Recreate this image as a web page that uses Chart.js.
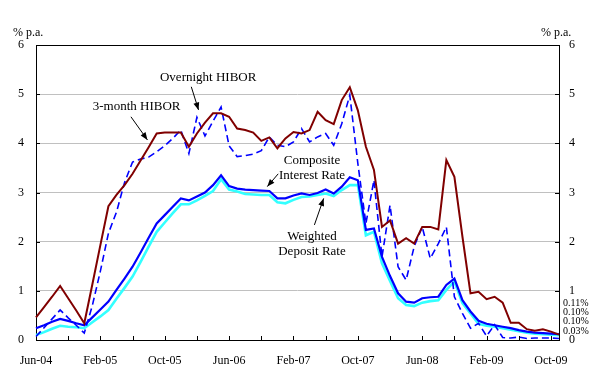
<!DOCTYPE html>
<html>
<head>
<meta charset="utf-8">
<script src="https://cdn.jsdelivr.net/npm/chart.js@4/dist/chart.umd.min.js"></script>
<style>
  html, body { margin: 0; padding: 0; background: #fff; }
  #wrap { width: 601px; height: 375px; }
</style>
</head>
<body>
<div id="wrap"><canvas id="rates" width="601" height="375"></canvas></div>
<script>
'use strict';

// ── Data (monthly, Jun-04 .. Nov-09, % p.a.) ─────────────────────────────────

const months = [
  'Jun-04', 'Jul-04', 'Aug-04', 'Sep-04', 'Oct-04', 'Nov-04', 'Dec-04',
  'Jan-05', 'Feb-05', 'Mar-05', 'Apr-05', 'May-05', 'Jun-05', 'Jul-05', 'Aug-05', 'Sep-05', 'Oct-05', 'Nov-05', 'Dec-05',
  'Jan-06', 'Feb-06', 'Mar-06', 'Apr-06', 'May-06', 'Jun-06', 'Jul-06', 'Aug-06', 'Sep-06', 'Oct-06', 'Nov-06', 'Dec-06',
  'Jan-07', 'Feb-07', 'Mar-07', 'Apr-07', 'May-07', 'Jun-07', 'Jul-07', 'Aug-07', 'Sep-07', 'Oct-07', 'Nov-07', 'Dec-07',
  'Jan-08', 'Feb-08', 'Mar-08', 'Apr-08', 'May-08', 'Jun-08', 'Jul-08', 'Aug-08', 'Sep-08', 'Oct-08', 'Nov-08', 'Dec-08',
  'Jan-09', 'Feb-09', 'Mar-09', 'Apr-09', 'May-09', 'Jun-09', 'Jul-09', 'Aug-09', 'Sep-09', 'Oct-09', 'Nov-09',
];

const hibor3m = [
  0.46, 0.67, 0.88, 1.10, 0.85, 0.60, 0.34,
  1.13, 1.93, 2.72, 2.95, 3.15, 3.38, 3.65, 3.92, 4.20, 4.22, 4.22, 4.22,
  3.93, 4.20, 4.42, 4.61, 4.61, 4.54, 4.30, 4.27, 4.22, 4.05, 4.12, 3.90,
  4.10, 4.23, 4.20, 4.27, 4.64, 4.47, 4.39, 4.88, 5.14, 4.67, 3.93, 3.46,
  2.30, 2.43, 1.96, 2.07, 1.96, 2.30, 2.30, 2.25, 3.66, 3.32, 2.10, 0.95,
  0.98, 0.83, 0.88, 0.76, 0.35, 0.35, 0.22, 0.19, 0.22, 0.17, 0.11,
];

const hiborOvernight = [
  0.07, 0.25, 0.43, 0.61, 0.45, 0.30, 0.14,
  0.70, 1.40, 2.17, 2.60, 3.20, 3.62, 3.68, 3.72, 3.83, 3.95, 4.10, 4.27,
  3.79, 4.53, 4.15, 4.45, 4.74, 3.95, 3.73, 3.75, 3.78, 3.85, 4.13, 3.96,
  3.93, 4.03, 4.30, 4.03, 4.13, 4.20, 3.96, 4.40, 4.98, 3.59, 2.37, 3.25,
  1.69, 2.74, 1.49, 1.22, 1.90, 2.30, 1.66, 1.96, 2.30, 0.88, 0.54, 0.24,
  0.34, 0.08, 0.31, 0.05, 0.04, 0.06, 0.03, 0.04, 0.04, 0.04, 0.03,
];

const compositeRate = [
  0.24, 0.30, 0.37, 0.43, 0.39, 0.34, 0.30,
  0.46, 0.62, 0.78, 1.02, 1.25, 1.49, 1.78, 2.08, 2.37, 2.54, 2.71, 2.88,
  2.84, 2.92, 3.00, 3.15, 3.35, 3.13, 3.08, 3.06, 3.05, 3.04, 3.03, 2.88,
  2.88, 2.94, 2.98, 2.95, 2.99, 3.06, 2.98, 3.12, 3.31, 3.25, 2.24, 2.27,
  1.69, 1.30, 0.95, 0.78, 0.76, 0.85, 0.87, 0.88, 1.12, 1.25, 0.81, 0.58,
  0.39, 0.33, 0.30, 0.27, 0.24, 0.20, 0.17, 0.15, 0.14, 0.13, 0.12,
];

const depositRate = [
  0.10, 0.16, 0.23, 0.29, 0.27, 0.26, 0.24,
  0.36, 0.48, 0.61, 0.84, 1.06, 1.29, 1.59, 1.90, 2.20, 2.39, 2.58, 2.76,
  2.76, 2.84, 2.93, 3.03, 3.27, 3.06, 3.02, 2.97, 2.96, 2.95, 2.95, 2.80,
  2.78, 2.85, 2.91, 2.92, 2.95, 2.98, 2.93, 3.05, 3.15, 3.15, 2.13, 2.20,
  1.56, 1.20, 0.85, 0.71, 0.69, 0.76, 0.79, 0.81, 1.02, 1.19, 0.75, 0.54,
  0.33, 0.29, 0.27, 0.24, 0.21, 0.18, 0.15, 0.13, 0.12, 0.11, 0.10,
];

const yTicks = [0, 1, 2, 3, 4, 5, 6];
const endLabels = ['0.11%', '0.10%', '0.10%', '0.03%'];

// ── Look ──────────────────────────────────────────────────────────────────────

const FONT = '"Liberation Serif", "Times New Roman", serif';
const LABEL_EVERY = 8;
const TICK_EVERY = 4;

// callout text + arrow, in (month index, % p.a.)
const notes = [
  { lines: ['Overnight HIBOR'], at: [21.4, 5.33], from: [19.3, 5.15], to: [20.2, 4.68] },
  { lines: ['3-month HIBOR'], at: [12.5, 4.74], from: [11.8, 4.54], to: [13.85, 4.07] },
  { lines: ['Composite', 'Interest Rate'], at: [34.3, 3.64], from: [30.1, 3.38], to: [28.75, 3.12] },
  { lines: ['Weighted', 'Deposit Rate'], at: [34.3, 2.10], from: [34.6, 2.34], to: [35.75, 2.88] },
];

function drawArrow(ctx, x1, y1, x2, y2) {
  const a = Math.atan2(y2 - y1, x2 - x1);
  ctx.beginPath();
  ctx.moveTo(x1, y1);
  ctx.lineTo(x2, y2);
  ctx.stroke();
  ctx.beginPath();
  ctx.moveTo(x2, y2);
  ctx.lineTo(x2 - 8 * Math.cos(a - 0.38), y2 - 8 * Math.sin(a - 0.38));
  ctx.lineTo(x2 - 8 * Math.cos(a + 0.38), y2 - 8 * Math.sin(a + 0.38));
  ctx.closePath();
  ctx.fill();
}

const decorations = {
  id: 'decorations',
  beforeDatasetsDraw(chart) {
    const { ctx, chartArea: a, scales } = chart;
    ctx.save();
    ctx.strokeStyle = '#000';
    ctx.lineWidth = 1;
    ctx.strokeRect(Math.round(a.left) + 0.5, Math.round(a.top) + 0.5,
      Math.round(a.right - a.left), Math.round(a.bottom - a.top));

    // inward tick marks
    ctx.beginPath();
    yTicks.forEach(v => {
      const y = Math.round(scales.y.getPixelForValue(v)) + 0.5;
      ctx.moveTo(a.left, y); ctx.lineTo(a.left + 4, y);
      ctx.moveTo(a.right - 4, y); ctx.lineTo(a.right, y);
    });
    for (let i = 0; i < months.length; i += TICK_EVERY) {
      const x = Math.round(scales.x.getPixelForValue(i)) + 0.5;
      ctx.moveTo(x, a.bottom); ctx.lineTo(x, a.bottom - 4);
    }
    ctx.stroke();

    // unit captions
    ctx.fillStyle = '#000';
    ctx.font = '12px ' + FONT;
    ctx.textBaseline = 'middle';
    ctx.textAlign = 'left';
    ctx.fillText('% p.a.', 13, 33);
    ctx.fillText('% p.a.', 541, 33);
    ctx.restore();
  },
  afterDatasetsDraw(chart) {
    const { ctx, chartArea: a, scales } = chart;
    const px = i => scales.x.getPixelForValue(i);
    const py = v => scales.y.getPixelForValue(v);
    ctx.save();
    ctx.fillStyle = '#000';
    ctx.strokeStyle = '#000';
    ctx.lineWidth = 1;
    ctx.font = '13px ' + FONT;
    ctx.textAlign = 'center';
    ctx.textBaseline = 'middle';
    notes.forEach(n => {
      n.lines.forEach((t, k) => ctx.fillText(t, px(n.at[0]), py(n.at[1]) + k * 15));
      drawArrow(ctx, px(n.from[0]), py(n.from[1]), px(n.to[0]), py(n.to[1]));
    });

    // latest values at the right edge
    ctx.font = '10px ' + FONT;
    ctx.textAlign = 'left';
    endLabels.forEach((t, k) => ctx.fillText(t, a.right + 4, 303 + k * 9.3));
    ctx.restore();
  },
};

const line = (data, color, width, dash) => ({
  data,
  borderColor: color,
  borderWidth: width,
  borderDash: dash || [],
  pointRadius: 0,
  tension: 0,
  fill: false,
});

new Chart(document.getElementById('rates'), {
  type: 'line',
  data: {
    labels: months,
    datasets: [
      line(hibor3m, '#800000', 2),
      line(hiborOvernight, '#0000ff', 1.6, [7, 4]),
      line(compositeRate, '#0000ff', 2.2),
      line(depositRate, '#33ffff', 2.6),
    ],
  },
  options: {
    responsive: false,
    animation: false,
    layout: { padding: { top: 45, left: 0, right: 0, bottom: 0 } },
    plugins: { legend: { display: false }, tooltip: { enabled: false } },
    scales: {
      x: {
        type: 'category',
        offset: false,
        grid: { display: false },
        border: { display: false },
        afterFit: s => { s.height = 35; },
        ticks: {
          autoSkip: false,
          maxRotation: 0,
          padding: 6,
          color: '#000',
          font: { family: FONT, size: 12 },
          callback: (v, i) => (i % LABEL_EVERY === 0 ? months[i] : null),
        },
      },
      y: {
        position: 'left',
        min: 0,
        max: 6,
        afterFit: s => { s.width = 36; },
        grid: { color: '#c0c0c0', drawTicks: false },
        border: { display: false },
        ticks: { stepSize: 1, padding: 12, color: '#000', font: { family: FONT, size: 12 } },
      },
      y2: {
        position: 'right',
        min: 0,
        max: 6,
        afterFit: s => { s.width = 42; },
        grid: { display: false, drawTicks: false },
        border: { display: false },
        ticks: { stepSize: 1, padding: 10, color: '#000', font: { family: FONT, size: 12 } },
      },
    },
  },
  plugins: [decorations],
});
</script>
</body>
</html>
